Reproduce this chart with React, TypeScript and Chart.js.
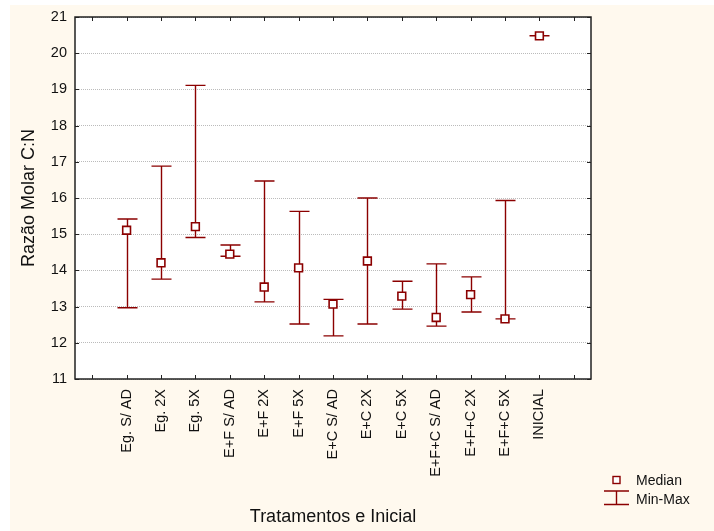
import React, { useEffect, useRef } from "react";
import { Chart, registerables } from "chart.js";

Chart.register(...registerables);

const categories = [
  "",
  "Eg. S/ AD",
  "Eg. 2X",
  "Eg. 5X",
  "E+F S/ AD",
  "E+F 2X",
  "E+F 5X",
  "E+C S/ AD",
  "E+C 2X",
  "E+C 5X",
  "E+F+C S/ AD",
  "E+F+C 2X",
  "E+F+C 5X",
  "INICIAL",
  "",
];

const medians = [null, 15.11, 14.21, 15.21, 14.45, 13.54, 14.07, 13.07, 14.26, 13.29, 12.7, 13.33, 12.66, 20.48, null];
const mins = [null, 12.97, 13.76, 14.91, 14.39, 13.13, 12.52, 12.19, 12.52, 12.93, 12.46, 12.85, 12.66, 20.48, null];
const maxs = [null, 15.42, 16.88, 19.11, 14.7, 16.47, 15.63, 13.2, 16.0, 13.7, 14.18, 13.82, 15.93, 20.48, null];

const yMin = 11;
const yMax = 21;

const RED = "#8B0000";
const CREAM = "#FFF9EE";
const FONT = "'Liberation Sans', Arial, sans-serif";

const decor = {
  id: "decor",
  beforeDraw(chart: any) {
    const { ctx, chartArea: a } = chart;
    ctx.save();
    ctx.fillStyle = "#ffffff";
    ctx.fillRect(0, 0, chart.width, chart.height);
    ctx.fillStyle = CREAM;
    ctx.fillRect(10, 5, chart.width - 10, chart.height - 5);
    ctx.fillStyle = "#ffffff";
    ctx.fillRect(a.left, a.top, a.right - a.left, a.bottom - a.top);
    ctx.restore();
  },
  beforeDatasetsDraw(chart: any) {
    const { ctx } = chart;
    const xs = chart.scales.x;
    const ys = chart.scales.y;
    ctx.save();
    ctx.strokeStyle = RED;
    ctx.lineWidth = 1.4;
    for (let i = 0; i < categories.length; i++) {
      if (mins[i] == null || maxs[i] == null) continue;
      const x = Math.round(xs.getPixelForValue(i)) + 0.5;
      const y1 = ys.getPixelForValue(mins[i]);
      const y2 = ys.getPixelForValue(maxs[i]);
      ctx.beginPath();
      ctx.moveTo(x, y1);
      ctx.lineTo(x, y2);
      ctx.moveTo(x - 10, y1);
      ctx.lineTo(x + 10, y1);
      ctx.moveTo(x - 10, y2);
      ctx.lineTo(x + 10, y2);
      ctx.stroke();
    }
    ctx.restore();
  },
  afterDraw(chart: any) {
    const { ctx, chartArea: a } = chart;
    const xs = chart.scales.x;
    const ys = chart.scales.y;
    ctx.save();
    ctx.strokeStyle = "#222";
    ctx.lineWidth = 1.5;
    ctx.strokeRect(a.left, a.top, a.right - a.left, a.bottom - a.top);
    ctx.lineWidth = 1;
    ctx.beginPath();
    for (let i = 0; i < categories.length; i++) {
      const x = Math.round(xs.getPixelForValue(i)) + 0.5;
      ctx.moveTo(x, a.top);
      ctx.lineTo(x, a.top + 4);
      ctx.moveTo(x, a.bottom);
      ctx.lineTo(x, a.bottom - 4);
    }
    for (let v = yMin; v <= yMax; v++) {
      const y = Math.round(ys.getPixelForValue(v)) + 0.5;
      ctx.moveTo(a.left, y);
      ctx.lineTo(a.left + 4, y);
      ctx.moveTo(a.right, y);
      ctx.lineTo(a.right - 4, y);
    }
    ctx.stroke();

    // legend
    ctx.strokeStyle = RED;
    ctx.fillStyle = "#fff";
    ctx.lineWidth = 1.4;
    ctx.fillRect(613, 476.5, 7, 7);
    ctx.strokeRect(613, 476.5, 7, 7);
    ctx.beginPath();
    ctx.moveTo(616.5, 491);
    ctx.lineTo(616.5, 504.5);
    ctx.moveTo(604, 491);
    ctx.lineTo(629, 491);
    ctx.moveTo(604, 504.5);
    ctx.lineTo(629, 504.5);
    ctx.stroke();
    ctx.fillStyle = "#111";
    ctx.font = `14px ${FONT}`;
    ctx.textBaseline = "middle";
    ctx.textAlign = "left";
    ctx.fillText("Median", 636, 481);
    ctx.fillText("Min-Max", 636, 500);
    ctx.restore();
  },
};

export default function App() {
  const ref = useRef<HTMLCanvasElement | null>(null);

  useEffect(() => {
    if (!ref.current) return;
    const chart = new Chart(ref.current, {
      type: "line",
      data: {
        labels: categories,
        datasets: [
          {
            label: "Median",
            data: medians as any,
            showLine: false,
            pointStyle: "rect",
            pointRadius: 5.5,
            pointHoverRadius: 5.5,
            pointBorderWidth: 1.6,
            pointBackgroundColor: "#ffffff",
            pointBorderColor: RED,
            borderColor: RED,
            clip: false as any,
          },
        ],
      },
      options: {
        responsive: false,
        animation: false,
        devicePixelRatio: 1,
        layout: { padding: { left: 0, top: 17, right: 123, bottom: 0 } },
        plugins: {
          legend: { display: false },
          tooltip: { enabled: false },
        },
        scales: {
          x: {
            type: "category",
            offset: true,
            grid: { display: false, drawTicks: false },
            border: { display: false },
            ticks: {
              autoSkip: false,
              minRotation: 90,
              maxRotation: 90,
              padding: 10,
              color: "#111",
              font: { family: FONT, size: 14.5 },
            },
            title: {
              display: true,
              text: "Tratamentos e Inicial",
              color: "#111",
              font: { family: FONT, size: 18 },
              padding: { top: 0, bottom: 3 },
            },
            afterFit(scale: any) {
              scale.height = 152;
            },
          },
          y: {
            min: yMin,
            max: yMax,
            grid: {
              drawTicks: false,
              color: "rgba(170,170,170,0.8)",
              lineWidth: 1,
            },
            border: { display: false, dash: [1, 1] },
            ticks: {
              stepSize: 1,
              padding: 8,
              color: "#111",
              font: { family: FONT, size: 14.5 },
            },
            title: {
              display: true,
              text: "Razão Molar C:N",
              color: "#111",
              font: { family: FONT, size: 18 },
              padding: { top: 18, bottom: 0 },
            },
            afterFit(scale: any) {
              scale.width = 75;
            },
          },
        },
      },
      plugins: [decor],
    });
    return () => chart.destroy();
  }, []);

  return (
    <div style={{ position: "fixed", left: 0, top: 0, width: 714, height: 531 }}>
      <canvas ref={ref} width={714} height={531} style={{ display: "block", width: 714, height: 531 }} />
    </div>
  );
}
